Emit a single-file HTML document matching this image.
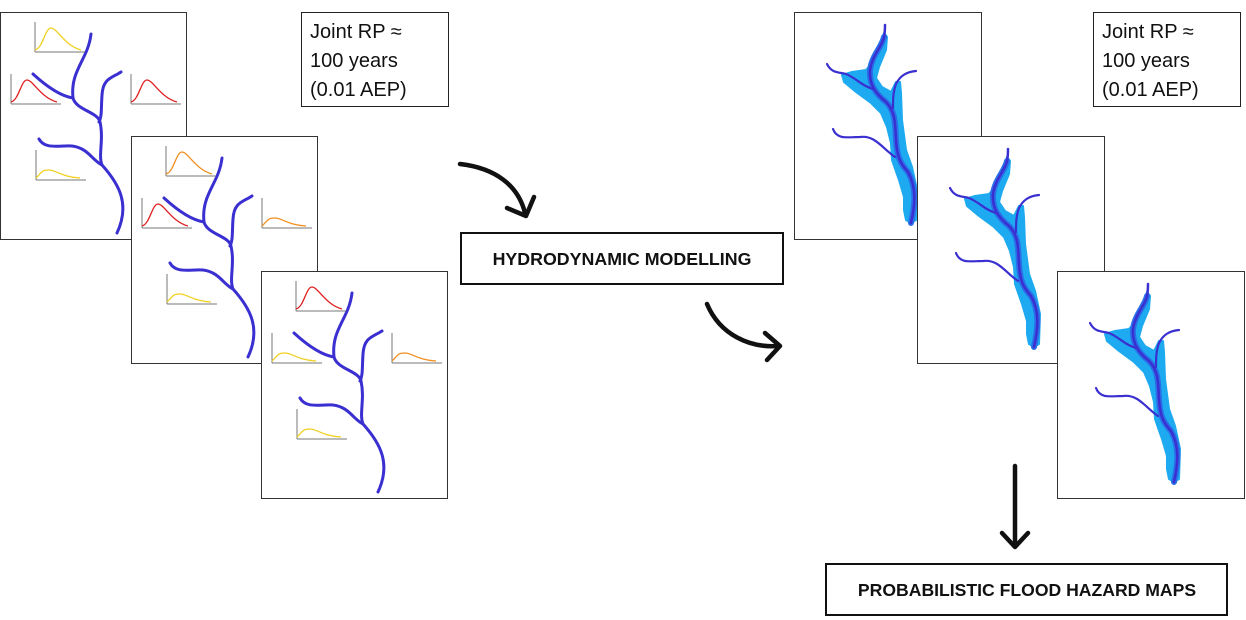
<!DOCTYPE html>
<html><head><meta charset="utf-8"><style>
body{margin:0;background:#fff;}
svg{display:block;font-family:"Liberation Sans",Arial,sans-serif;}
</style></head><body>
<svg width="1246" height="620" viewBox="0 0 1246 620" xmlns="http://www.w3.org/2000/svg">
<defs>
<g id="river" fill="none" stroke="#3a2fd0" stroke-width="3" stroke-linecap="round">
  <path d="M91,34 C88,60 70,70 73,98 C76,110 98,112 100,122 C104,140 98,155 102,165 C120,185 130,205 117,233"/>
  <path d="M33,74 C45,85 60,96 73,98"/>
  <path d="M121,72 C112,78 103,78 102,95 C101,110 102,116 99,122"/>
  <path d="M39,139 C45,150 60,145 72,146 C88,148 92,160 102,165"/>
</g>
<g id="ax" fill="none" stroke="#777" stroke-width="1">
  <path d="M0,0 V-30 M0,0 H50"/>
</g>
<path id="pk1" d="M0,-2 C8,-4 10,-24 16,-24 C22,-24 30,-6 46,-2" fill="none" stroke-width="1.3"/>
<path id="pk2" d="M0,-2 C6,-8 6,-10 13,-10 C20,-10 26,-3 44,-2" fill="none" stroke-width="1.3"/>
<g id="flood">
  <path d="M884,33 L879,50 L872,63 L866,70 L852,72 L842,75 L844,82 L856,92 L871,103 L881,113 L887,127 L891,143 L892,160 L899,180 L904,197 L904,210 L906,220 L911,223 L916,220 L917,190 L912,167 L906,150 L902,120 L901,93 L900,82 L896,82 L891,92 L882,87 L876,78 L879,67 L886,50 L887,37 Z" fill="#1eaaf0" stroke="#1eaaf0" stroke-width="2" stroke-linejoin="round"/>
  <g fill="none" stroke-linecap="round" stroke-linejoin="round">
    <path d="M884,37 C882,47 872,55 870,70 C869,85 876,94 886,102 C896,112 895,125 896,140 C897,157 900,163 908,172 C917,188 915,205 911,223" stroke="#2a6ee8" stroke-width="6"/>
    <path d="M885,25 C885,32 884,37 884,37 C882,47 872,55 870,70 C869,85 876,94 886,102 C896,112 895,125 896,140 C897,157 900,163 908,172 C917,188 915,205 911,223" stroke="#3a2fd0" stroke-width="2.5"/>
    <path d="M827,64 C832,74 840,72 846,74 C856,78 862,86 873,89" stroke="#3a2fd0" stroke-width="2.2"/>
    <path d="M916,71 C906,72 900,76 896,84 C893,92 893,100 893,108" stroke="#3a2fd0" stroke-width="2.2"/>
    <path d="M833,129 C837,140 848,137 860,137 C875,135 882,148 895,157" stroke="#3a2fd0" stroke-width="2.2"/>
  </g>
</g>
</defs>

<g>
<rect x="0.5" y="12.5" width="186" height="227" fill="#fff" stroke="#333"/>
<use href="#river"/>
<use href="#ax" x="35" y="52"/><use href="#pk1" x="35" y="52" stroke="#f0d020"/>
<use href="#ax" x="11" y="104"/><use href="#pk1" x="11" y="104" stroke="#e02020"/>
<use href="#ax" x="131" y="104"/><use href="#pk1" x="131" y="104" stroke="#e02020"/>
<use href="#ax" x="36" y="180"/><use href="#pk2" x="36" y="180" stroke="#f0d020"/>
</g>
<g transform="translate(131,124)">
<rect x="0.5" y="12.5" width="186" height="227" fill="#fff" stroke="#333"/>
<use href="#river"/>
<use href="#ax" x="35" y="52"/><use href="#pk1" x="35" y="52" stroke="#f09020"/>
<use href="#ax" x="11" y="104"/><use href="#pk1" x="11" y="104" stroke="#e02020"/>
<use href="#ax" x="131" y="104"/><use href="#pk2" x="131" y="104" stroke="#f09020"/>
<use href="#ax" x="36" y="180"/><use href="#pk2" x="36" y="180" stroke="#f0d020"/>
</g>
<g transform="translate(261,259)">
<rect x="0.5" y="12.5" width="186" height="227" fill="#fff" stroke="#333"/>
<use href="#river"/>
<use href="#ax" x="35" y="52"/><use href="#pk1" x="35" y="52" stroke="#e02020"/>
<use href="#ax" x="11" y="104"/><use href="#pk2" x="11" y="104" stroke="#f0d020"/>
<use href="#ax" x="131" y="104"/><use href="#pk2" x="131" y="104" stroke="#f09020"/>
<use href="#ax" x="36" y="180"/><use href="#pk2" x="36" y="180" stroke="#f0d020"/>
</g>

<rect x="794.5" y="12.5" width="187" height="227" fill="#fff" stroke="#333"/>
<use href="#flood"/>
<g transform="translate(123,124)">
<rect x="794.5" y="12.5" width="187" height="227" fill="#fff" stroke="#333"/>
<use href="#flood"/>
</g>
<g transform="translate(263,259)">
<rect x="794.5" y="12.5" width="187" height="227" fill="#fff" stroke="#333"/>
<use href="#flood"/>
</g>

<rect x="301.5" y="12.5" width="147" height="94" fill="#fff" stroke="#222"/>
<text font-size="20" fill="#111"><tspan x="310" y="38">Joint RP ≈</tspan><tspan x="310" y="67">100 years</tspan><tspan x="310" y="96">(0.01 AEP)</tspan></text>
<rect x="1093.5" y="12.5" width="147" height="94" fill="#fff" stroke="#222"/>
<text font-size="20" fill="#111"><tspan x="1102" y="38">Joint RP ≈</tspan><tspan x="1102" y="67">100 years</tspan><tspan x="1102" y="96">(0.01 AEP)</tspan></text>

<rect x="461" y="233" width="322" height="51" fill="#fff" stroke="#111" stroke-width="2"/>
<text x="622" y="265" font-family="Liberation Sans, Arial, sans-serif" font-size="17.8" font-weight="bold" text-anchor="middle" fill="#111">HYDRODYNAMIC MODELLING</text>
<rect x="826" y="564" width="401" height="51" fill="#fff" stroke="#111" stroke-width="2"/>
<text x="1027" y="596" font-family="Liberation Sans, Arial, sans-serif" font-size="17.6" font-weight="bold" text-anchor="middle" fill="#111">PROBABILISTIC FLOOD HAZARD MAPS</text>

<g fill="none" stroke="#111" stroke-width="4.5" stroke-linecap="round" stroke-linejoin="round">
  <path d="M460,164 C495,168 518,185 525,213"/>
  <path d="M507,208 L526,216 L534,197"/>
  <path d="M707,304 C720,335 750,348 778,346"/>
  <path d="M765,333 L780,346 L767,360"/>
  <path d="M1015,466 V546"/>
  <path d="M1002,533 L1015,547 L1028,533"/>
</g>
</svg>
</body></html>
